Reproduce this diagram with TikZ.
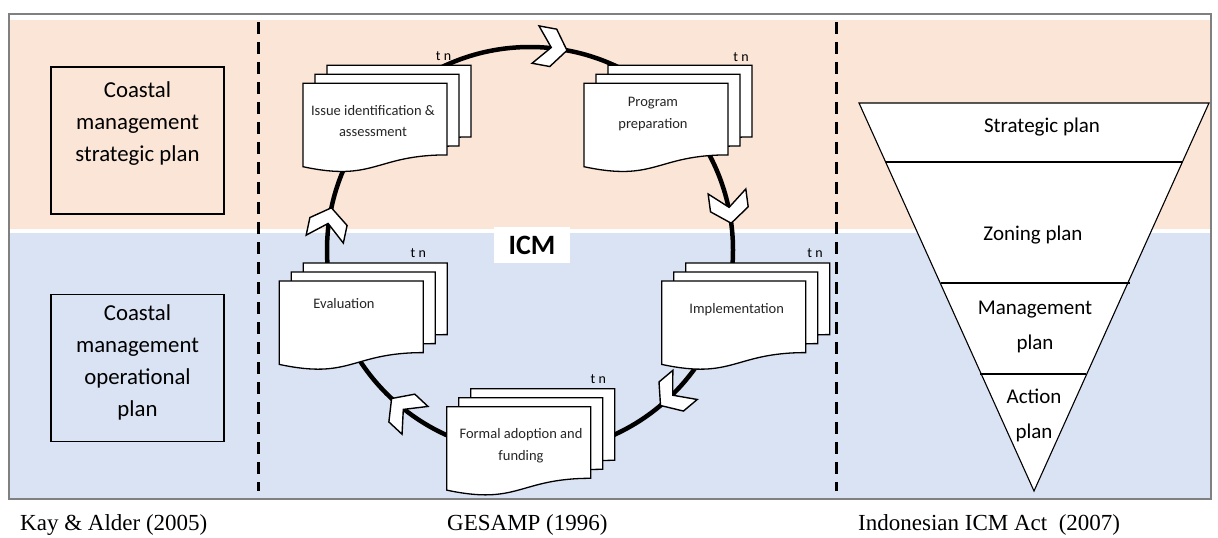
\documentclass[tikz,border=0pt]{standalone}
\usepackage{fontspec}
\setmainfont{Carlito}
\newfontfamily\capfont{Liberation Serif}
\definecolor{peach}{HTML}{FBE5D6}
\definecolor{paleblue}{HTML}{DAE3F3}
\definecolor{framegray}{HTML}{808080}
\begin{document}
\begin{tikzpicture}[x=1pt,y=-1pt,
  docst/.style={draw=black,fill=white,line width=1.3pt},
  chevst/.style={draw=black,fill=white,line width=1.4pt,line join=miter},
  dashln/.style={line width=3pt,dash pattern=on 12pt off 8pt},
  cyc/.style={line width=4.5pt},
  boxst/.style={draw=black,line width=1.2pt,minimum width=173pt,minimum height=147pt,inner sep=0pt},
  boxtxt/.style={align=center,font=\fontsize{22.8}{32}\selectfont},
  doctxt/.style={align=center,font=\fontsize{14.5}{21.7}\selectfont,text=black!85,inner sep=0pt},
  tnst/.style={font=\fontsize{14}{16}\selectfont,inner sep=0pt},
  tritxt/.style={align=center,font=\fontsize{21}{35}\selectfont,inner sep=0pt},
  captxt/.style={font=\capfont\fontsize{23}{26}\selectfont,anchor=base west,inner sep=0pt},
  docstack/.pic={
    \foreach \dx/\dy in {24/-18,12/-9,0/0}{
      \begin{scope}[shift={(\dx,\dy)}]
        \path[docst] (0,0) -- (144,0) -- (144,71.6) .. controls (72,71.6) and (72,98.9) .. (0,83.4) -- cycle;
      \end{scope}
    }
  },
  chev/.pic={
    \path[chevst] (0,0) -- (-14,19) -- (-32,19) -- (-16,0) -- (-32,-19) -- (-14,-19) -- cycle;
  }
]
\useasboundingbox (0,0) rectangle (1218,538);
\fill[white] (0,0) rectangle (1218,538);
% background bands
\fill[peach] (10,20) rectangle (1212,229);
\fill[paleblue] (10,233) rectangle (1212,498);
\draw[framegray,line width=1.2pt] (9,14) rectangle (1211,499);
% dashed separators
\draw[dashln] (258,22) -- (258,491);
\draw[dashln] (836,22) -- (836,491);
% left boxes
\node[boxst] (b1) at (137.5,140.5) {};
\node[boxtxt] (b1t) at (137.5,123.5) {Coastal\\management\\strategic plan};
\node[boxst] (b2) at (137.5,368) {};
\node[boxtxt] (b2t) at (137.5,362) {Coastal\\management\\operational\\plan};
% triangle
\path[draw=black,fill=white,line width=1.1pt] (859,103) -- (1209,103) -- (1034,491) -- cycle;
\draw[line width=1.1pt] (886,162) -- (1182,162);
\draw[line width=1.1pt] (941,283) -- (1130,283);
\draw[line width=1.1pt] (980,374) -- (1086,374);
\node[tritxt] (tr1) at (1042,127) {Strategic plan};
\node[tritxt] (tr2) at (1033,235) {Zoning plan};
\node[tritxt] (tr3) at (1035,327) {Management\\plan};
\node[tritxt] (tr4) at (1034,415) {Action\\plan};
% cycle
\draw[cyc] (530,250) circle[radius=203pt];
% document stacks
\pic (d1) at (303,83.3) {docstack};
\pic (d2) at (584,83.3) {docstack};
\pic (d3) at (661.7,281) {docstack};
\pic (d4) at (279.3,281) {docstack};
\pic (d5) at (446.7,406.7) {docstack};
\node[doctxt] (t1) at (373,121) {Issue identification \&\\assessment};
\node[doctxt] (t2) at (653,114) {Program\\preparation};
\node[doctxt] (t3) at (736.7,309.3) {Implementation};
\node[doctxt] (t4) at (344,303.3) {Evaluation};
\node[doctxt] (t5) at (521,446) {Formal adoption and\\funding};
\node[tnst] (tn1) at (443.5,56) {t n};
\node[tnst] (tn2) at (741,57) {t n};
\node[tnst] (tn3) at (815,253) {t n};
\node[tnst] (tn4) at (418.3,252.7) {t n};
\node[tnst] (tn5) at (598.3,379.3) {t n};
% chevrons on the cycle
\coordinate (a1) at (567,50.4);
\coordinate (a2) at (731.2,223.2);
\coordinate (a3) at (660.5,405.5);
\coordinate (a4) at (391.6,398.5);
\coordinate (a5) at (331.4,207.8);
\pic[rotate=-10.5] at (a1) {chev};
\pic[rotate=-82.4] at (a2) {chev};
\pic[rotate=-140] at (a3) {chev};
\pic[rotate=137] at (a4) {chev};
\pic[rotate=78] at (a5) {chev};
% ICM label
\node[fill=white,minimum width=76pt,minimum height=36pt,inner sep=0pt,font=\bfseries\fontsize{28}{30}\selectfont] (icm) at (532,245) {ICM};
% captions
\node[captxt] (c1) at (20,530) {Kay \& Alder (2005)};
\node[captxt] (c2) at (447,530) {GESAMP (1996)};
\node[captxt] (c3) at (858,530) {Indonesian ICM Act\ \ (2007)};
\end{tikzpicture}
\end{document}
